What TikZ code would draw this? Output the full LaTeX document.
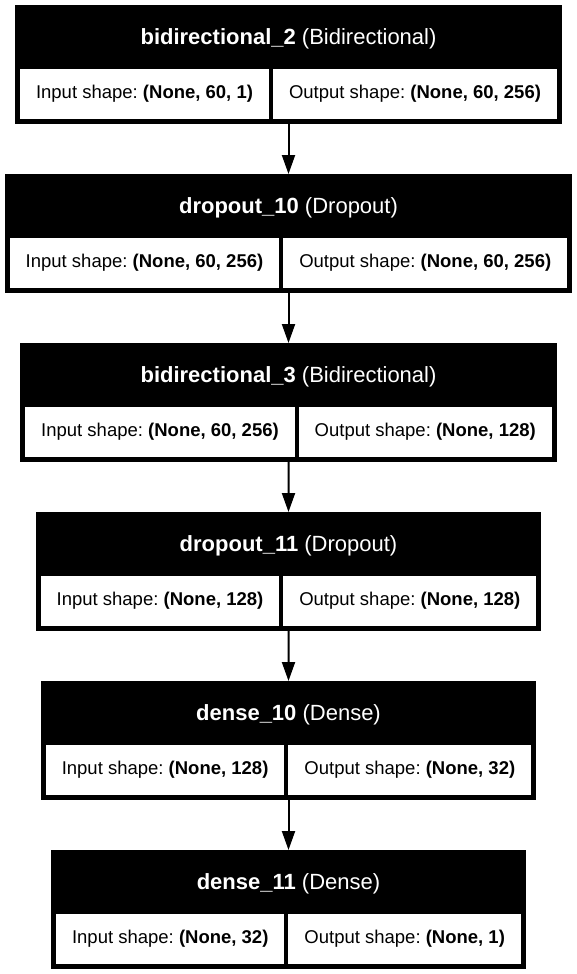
\documentclass[tikz,border=0pt]{standalone}
\usepackage{fontspec}
\setmainfont{Liberation Sans}
\usetikzlibrary{arrows.meta}
\frenchspacing
\tikzset{
  layerbox/.style={fill=black, draw=none, inner sep=0pt, outer sep=0pt, minimum height=119pt, anchor=north west},
  cellbox/.style={fill=white, draw=none, inner sep=0pt, outer sep=0pt, minimum height=50pt, anchor=north west},
  celltext/.style={inner sep=0pt, text=black, font=\fontsize{18.5}{22}\selectfont\frenchspacing},
  headtext/.style={inner sep=0pt, text=white, font=\fontsize{22}{26}\selectfont\frenchspacing},
  flowarrow/.style={line width=2pt, -{Triangle[length=19pt,width=13pt]}}
}
\begin{document}
\begin{tikzpicture}[x=1pt, y=-1pt]
\useasboundingbox[fill=white] (0,0) rectangle (577,974);

% layer 1
\node[layerbox, minimum width=547pt] (b1) at (15,5) {};
\node[headtext] (h1) at (288.5,38.5) {\textbf{bidirectional\_2} (Bidirectional)};
\node[cellbox, minimum width=249pt] (i1) at (20,69) {};
\node[celltext] (ti1) at (i1.center) {Input shape: \textbf{(None, 60, 1)}};
\node[cellbox, minimum width=284pt] (o1) at (273,69) {};
\node[celltext] (to1) at (o1.center) {Output shape: \textbf{(None, 60, 256)}};

% layer 2
\node[layerbox, minimum width=567.5pt] (b2) at (4.75,174) {};
\node[headtext] (h2) at (288.5,207.5) {\textbf{dropout\_10} (Dropout)};
\node[cellbox, minimum width=269.5pt] (i2) at (9.75,238) {};
\node[celltext] (ti2) at (i2.center) {Input shape: \textbf{(None, 60, 256)}};
\node[cellbox, minimum width=284pt] (o2) at (283.25,238) {};
\node[celltext] (to2) at (o2.center) {Output shape: \textbf{(None, 60, 256)}};

% layer 3
\node[layerbox, minimum width=536.5pt] (b3) at (20.25,343) {};
\node[headtext] (h3) at (288.5,376.5) {\textbf{bidirectional\_3} (Bidirectional)};
\node[cellbox, minimum width=269.5pt] (i3) at (25.25,407) {};
\node[celltext] (ti3) at (i3.center) {Input shape: \textbf{(None, 60, 256)}};
\node[cellbox, minimum width=253pt] (o3) at (298.75,407) {};
\node[celltext] (to3) at (o3.center) {Output shape: \textbf{(None, 128)}};

% layer 4
\node[layerbox, minimum width=505.7pt] (b4) at (35.65,512) {};
\node[headtext] (h4) at (288.5,545.5) {\textbf{dropout\_11} (Dropout)};
\node[cellbox, minimum width=238.7pt] (i4) at (40.65,576) {};
\node[celltext] (ti4) at (i4.center) {Input shape: \textbf{(None, 128)}};
\node[cellbox, minimum width=253pt] (o4) at (283.35,576) {};
\node[celltext] (to4) at (o4.center) {Output shape: \textbf{(None, 128)}};

% layer 5
\node[layerbox, minimum width=495.5pt] (b5) at (40.75,681) {};
\node[headtext] (h5) at (288.5,714.5) {\textbf{dense\_10} (Dense)};
\node[cellbox, minimum width=238.7pt] (i5) at (45.75,745) {};
\node[celltext] (ti5) at (i5.center) {Input shape: \textbf{(None, 128)}};
\node[cellbox, minimum width=242.8pt] (o5) at (288.45,745) {};
\node[celltext] (to5) at (o5.center) {Output shape: \textbf{(None, 32)}};

% layer 6
\node[layerbox, minimum width=474.9pt] (b6) at (51.05,850) {};
\node[headtext] (h6) at (288.5,883.5) {\textbf{dense\_11} (Dense)};
\node[cellbox, minimum width=228.4pt] (i6) at (56.05,914) {};
\node[celltext] (ti6) at (i6.center) {Input shape: \textbf{(None, 32)}};
\node[cellbox, minimum width=232.5pt] (o6) at (288.45,914) {};
\node[celltext] (to6) at (o6.center) {Output shape: \textbf{(None, 1)}};

% connectors
\draw[flowarrow] (b1.south) -- (b2.north);
\draw[flowarrow] (b2.south) -- (b3.north);
\draw[flowarrow] (b3.south) -- (b4.north);
\draw[flowarrow] (b4.south) -- (b5.north);
\draw[flowarrow] (b5.south) -- (b6.north);
\end{tikzpicture}
\end{document}
